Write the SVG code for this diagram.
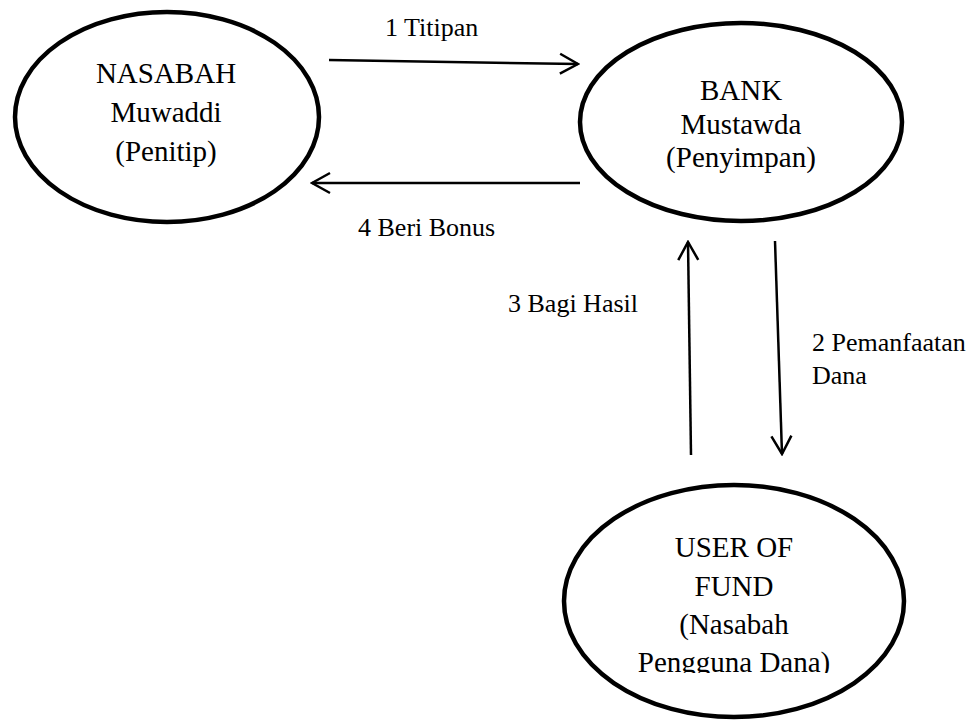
<svg xmlns="http://www.w3.org/2000/svg" width="974" height="720" viewBox="0 0 974 720">
  <style>
    .node { fill: #ffffff; stroke: #000000; stroke-width: 4.5; }
    .ntext { font-size: 29px; fill: #000000; text-anchor: middle; }
    .ltext { font-size: 26px; fill: #000000; }
    .edge { fill: none; stroke: #000000; stroke-width: 2.5; marker-end: url(#head); }
  </style>
  <defs>
    <marker id="head" markerUnits="userSpaceOnUse" viewBox="-22 -13 24 26" markerWidth="24" markerHeight="26" refX="0" refY="0" orient="auto">
      <path d="M-18,-10 L0,0 L-18,10" fill="none" stroke="#000000" stroke-width="2.5" stroke-linejoin="miter"/>
    </marker>
    <clipPath id="cutLast">
      <rect x="0" y="0" width="974" height="673"/>
    </clipPath>
  </defs>
  <rect width="974" height="720" fill="#ffffff"/>

  <g font-family="'Liberation Serif', Tinos, 'Times New Roman', Times, 'Noto Serif', 'DejaVu Serif', serif">
    <g id="nasabah">
      <ellipse class="node" cx="167" cy="117" rx="152" ry="105"/>
      <text class="ntext" x="166" y="83">NASABAH</text>
      <text class="ntext" x="166" y="122">Muwaddi</text>
      <text class="ntext" x="166" y="161">(Penitip)</text>
    </g>

    <g id="bank">
      <ellipse class="node" cx="741" cy="122" rx="161" ry="99"/>
      <text class="ntext" x="741" y="100">BANK</text>
      <text class="ntext" x="741" y="134">Mustawda</text>
      <text class="ntext" x="741" y="167">(Penyimpan)</text>
    </g>

    <g id="user-of-fund">
      <ellipse class="node" cx="734" cy="601" rx="170" ry="116"/>
      <text class="ntext" x="734" y="557">USER OF</text>
      <text class="ntext" x="734" y="596">FUND</text>
      <text class="ntext" x="734" y="634">(Nasabah</text>
      <text class="ntext" x="734" y="672" clip-path="url(#cutLast)">Pengguna Dana)</text>
    </g>

    <g id="connectors">
      <line class="edge" x1="329" y1="60" x2="578" y2="64"/>
      <line class="edge" x1="580" y1="183" x2="312" y2="183"/>
      <line class="edge" x1="775" y1="241" x2="782" y2="454"/>
      <line class="edge" x1="691" y1="455" x2="688" y2="242"/>
      <text class="ltext" x="385" y="36">1 Titipan</text>
      <text class="ltext" x="358" y="236">4 Beri Bonus</text>
      <text class="ltext" x="508" y="312">3 Bagi Hasil</text>
      <text class="ltext" x="812" y="351">2 Pemanfaatan</text>
      <text class="ltext" x="812" y="384">Dana</text>
    </g>
  </g>
</svg>
